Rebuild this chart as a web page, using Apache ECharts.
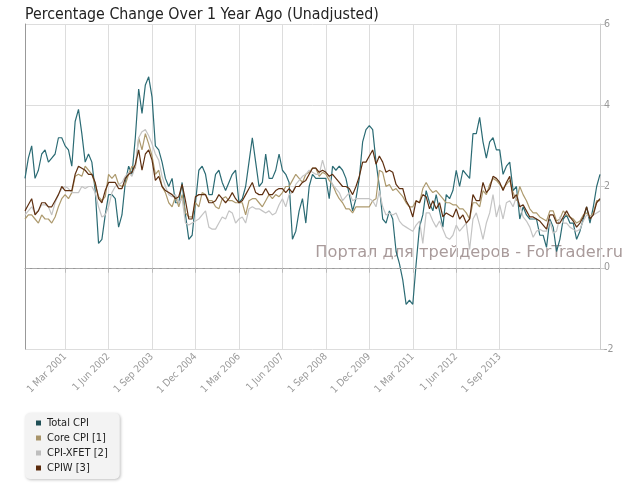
<!DOCTYPE html>
<html><head><meta charset="utf-8">
<script src="https://cdn.jsdelivr.net/npm/echarts@6/dist/echarts.min.js"></script>
<style>html,body{margin:0;padding:0;background:#fff}#c{width:630px;height:485px}</style>
</head><body><div id="c"></div>
<script>
// Monthly categories Jan 2000 .. May 2014
const startYear = 2000, monthCount = 173;
const categories = [];
for (let i = 0; i < monthCount; i++) {
  const y = startYear + Math.floor(i / 12), m = i % 12 + 1;
  categories.push(y + '-' + (m < 10 ? '0' + m : m));
}
const xTickLabels = ['1 Mar 2001','1 Jun 2002','1 Sep 2003','1 Dec 2004','1 Mar 2006','1 Jun 2007','1 Sep 2008','1 Dec 2009','1 Mar 2011','1 Jun 2012','1 Sep 2013'];
const firstTick = 12, tickStep = 13;

const totalCPI = [
2.2,2.7,3.0,2.2,2.4,2.8,2.9,2.6,2.7,2.8,3.2,3.2,
3.0,2.9,2.5,3.6,3.9,3.3,2.6,2.8,2.6,1.9,0.6,0.7,
1.3,1.8,1.8,1.7,1.0,1.3,2.1,2.5,2.3,3.2,4.4,3.8,
4.5,4.7,4.2,3.0,2.9,2.6,2.2,2.0,2.2,1.6,1.6,2.1,
1.3,0.7,0.8,1.6,2.4,2.5,2.3,1.8,1.8,2.3,2.4,2.1,
1.9,2.1,2.3,2.4,1.6,1.7,2.0,2.6,3.2,2.6,2.0,2.1,
2.8,2.2,2.2,2.4,2.8,2.4,2.3,2.1,0.7,0.9,1.4,1.7,
1.1,2.0,2.3,2.2,2.2,2.2,2.2,1.7,2.5,2.4,2.5,2.4,
2.2,1.8,1.4,1.7,2.2,3.1,3.4,3.5,3.4,2.6,2.0,1.2,
1.1,1.4,1.2,0.4,0.1,-0.3,-0.9,-0.8,-0.9,0.1,1.0,1.3,
1.9,1.6,1.4,1.8,1.4,1.0,1.8,1.7,1.9,2.4,2.0,2.4,
2.3,2.2,3.3,3.3,3.7,3.1,2.7,3.1,3.2,2.9,2.9,2.3,
2.5,2.6,1.9,2.0,1.2,1.5,1.3,1.2,1.2,1.2,0.8,0.8,
0.5,1.2,1.0,0.4,0.7,1.2,1.3,1.1,1.1,0.7,0.9,1.2,
1.5,1.1,1.5,2.0,2.3];

const coreCPI = [
1.2,1.3,1.3,1.2,1.1,1.3,1.2,1.2,1.1,1.25,1.5,1.7,
1.8,1.7,1.85,2.25,2.3,2.25,2.5,2.4,2.3,2.05,1.75,1.65,
1.75,2.3,2.2,2.3,2.05,2.0,2.05,2.3,2.5,2.45,3.2,2.9,
3.3,3.05,2.75,2.3,2.4,2.0,1.85,1.6,1.5,1.75,1.5,1.8,
1.35,1.25,1.25,1.6,1.5,1.85,1.8,1.65,1.65,1.5,1.45,1.7,
1.75,1.65,1.65,1.6,1.6,1.6,1.3,1.65,1.7,1.7,1.6,1.5,
1.65,1.8,1.7,1.8,1.75,1.85,2.0,2.0,2.15,2.3,2.2,2.1,
2.3,2.35,2.45,2.45,2.25,2.35,2.3,2.15,2.05,1.85,1.7,1.6,
1.45,1.45,1.35,1.5,1.5,1.5,1.5,1.5,1.65,1.7,2.4,2.35,
2.0,2.05,1.9,1.95,1.85,1.75,1.6,1.5,1.5,1.65,1.6,1.95,
2.1,1.95,1.85,1.9,1.8,1.7,1.6,1.6,1.55,1.55,1.45,1.45,
1.35,1.2,1.6,1.6,1.5,1.9,1.8,2.05,2.2,2.15,2.05,1.95,
2.05,2.15,1.85,1.65,2.0,1.8,1.65,1.45,1.35,1.35,1.25,1.2,
1.15,1.4,1.4,1.15,1.2,1.4,1.3,1.25,1.2,1.1,1.15,1.3,
1.35,1.25,1.35,1.65,1.65];

const cpiXFET = [
1.3,1.4,1.5,1.35,1.4,1.55,1.55,1.5,1.3,1.6,1.8,1.95,
2.0,1.95,1.85,1.85,1.85,2.0,1.95,2.0,2.0,1.85,1.5,1.25,
1.3,1.5,1.85,2.0,2.05,2.1,2.25,2.35,2.25,2.5,3.2,3.35,
3.4,3.25,3.05,2.8,2.65,2.25,2.0,1.8,1.75,1.8,1.6,1.7,
1.1,1.05,1.1,1.15,1.2,1.3,1.4,1.0,0.95,0.95,1.1,1.25,
1.2,1.4,1.35,1.1,1.2,1.25,1.1,1.45,1.5,1.45,1.45,1.4,
1.35,1.4,1.3,1.35,1.55,1.7,1.5,1.8,1.85,2.05,2.15,2.25,
2.3,2.4,2.35,2.3,2.3,2.65,2.35,2.25,2.05,1.95,1.85,1.65,
1.75,1.85,1.65,1.7,1.7,1.7,1.7,1.7,1.65,1.5,1.9,1.5,
1.3,1.35,1.3,1.35,1.15,1.05,1.0,0.95,0.9,1.05,1.15,0.6,
1.35,1.35,1.15,1.0,1.15,0.95,0.75,0.7,0.8,1.05,0.9,1.0,
1.1,0.45,1.2,1.35,1.05,0.7,1.1,1.35,1.8,1.25,1.55,1.2,
1.6,1.65,1.5,1.75,1.55,1.25,1.15,1.0,0.75,0.9,0.95,0.9,
0.9,1.15,0.85,0.9,1.25,1.1,1.1,1.0,0.95,0.9,0.95,1.15,
1.3,1.25,1.3,1.35,1.4];

const cpiW = [
1.4,1.55,1.7,1.3,1.4,1.6,1.6,1.5,1.5,1.65,1.8,2.0,
1.9,1.9,1.9,2.3,2.5,2.45,2.4,2.3,2.3,2.1,1.7,1.6,
1.9,2.1,2.1,2.1,1.95,1.95,2.2,2.3,2.35,2.55,2.9,2.4,
2.8,2.9,2.65,2.15,2.25,2.0,1.9,1.85,1.8,1.7,1.75,2.05,
1.65,1.2,1.2,1.75,1.8,1.8,1.8,1.6,1.6,1.65,1.8,1.7,
1.6,1.7,1.85,1.7,1.6,1.65,1.8,1.95,2.1,1.85,1.8,1.8,
1.95,1.8,1.8,1.9,1.95,1.95,1.85,1.95,1.85,2.0,2.0,2.1,
2.15,2.3,2.45,2.45,2.35,2.4,2.35,2.25,2.3,2.2,2.1,2.0,
2.0,1.95,1.8,2.0,2.25,2.6,2.6,2.75,2.9,2.55,2.75,2.6,
2.35,2.4,2.35,2.05,1.95,1.95,1.65,1.5,1.25,1.65,1.6,1.8,
1.75,1.45,1.65,1.45,1.6,1.25,1.35,1.3,1.25,1.45,1.2,1.3,
1.1,1.2,1.8,1.65,1.65,2.1,1.85,1.95,2.25,2.2,2.1,1.9,
2.1,2.25,1.7,1.8,1.5,1.55,1.4,1.25,1.25,1.2,1.15,1.05,
0.95,1.3,1.3,1.1,1.1,1.25,1.4,1.25,1.15,1.0,1.1,1.25,
1.5,1.2,1.3,1.6,1.7];

const seriesNames = ['Total CPI','Core CPI [1]','CPI-XFET [2]','CPIW [3]'];
const seriesColors = ['#2b6b74','#ad9a6e','#c4c4c4','#5e2f10'];
const legendColors = ['#1f4f56','#a8946a','#bdbdbd','#5a2a0c'];
const seriesData = [totalCPI, coreCPI, cpiXFET, cpiW];

const FONT = '"DejaVu Sans Condensed","Liberation Sans Narrow","Open Sans",sans-serif';
const WFONT = '"DejaVu Sans","Open Sans",sans-serif';
const lastTick = firstTick + tickStep * (xTickLabels.length - 1);
const isTick = (i) => i >= firstTick && i <= lastTick && (i - firstTick) % tickStep === 0;

const chart = echarts.init(document.getElementById('c'), null, {renderer: 'canvas'});
chart.setOption({
  animation: false,
  backgroundColor: '#fff',
  textStyle: {fontFamily: FONT},
  title: {
    text: 'Percentage Change Over 1 Year Ago (Unadjusted)',
    left: 20, top: 2,
    textStyle: {fontSize: 15.8, fontWeight: 'normal', color: '#222', fontFamily: FONT}
  },
  legend: {
    orient: 'vertical', left: 25, top: 413,
    padding: [4, 12, 5, 11], itemGap: 3,
    itemWidth: 5, itemHeight: 5,
    backgroundColor: '#f3f3f3', borderRadius: 5,
    shadowBlur: 3, shadowColor: 'rgba(0,0,0,0.25)', shadowOffsetX: 1, shadowOffsetY: 1,
    textStyle: {fontSize: 11, lineHeight: 12, color: '#222', fontFamily: FONT, padding: [0, 0, 0, 1]},
    data: seriesNames.map((n, i) => ({name: n, icon: 'rect', itemStyle: {color: legendColors[i]}}))
  },
  grid: {left: 25, right: 30, top: 24, bottom: 136, containLabel: false},
  xAxis: {
    type: 'category', data: categories, boundaryGap: false,
    axisLine: {lineStyle: {color: '#999'}},
    axisTick: {show: true, interval: (i) => isTick(i), length: 5, lineStyle: {color: '#bbb'}},
    axisLabel: {
      interval: (i) => isTick(i), rotate: 45, color: '#999', fontSize: 10, margin: 6,
      fontFamily: FONT,
      formatter: (v, i) => xTickLabels[(i - firstTick) / tickStep]
    },
    splitLine: {show: true, interval: (i) => isTick(i), lineStyle: {color: '#ddd'}}
  },
  yAxis: [{
    type: 'value', position: 'right', min: -2, max: 6, interval: 2,
    axisLine: {show: true, lineStyle: {color: '#ccc'}},
    axisTick: {show: true, length: 5, lineStyle: {color: '#ccc'}},
    axisLabel: {color: '#999', fontSize: 10.5, margin: 4, fontFamily: FONT},
    splitLine: {show: true, lineStyle: {color: ['#ddd', 'rgba(0,0,0,0)', '#ddd', '#ddd', '#ddd']}}
  }, {
    type: 'value', position: 'left', min: -2, max: 6, interval: 2,
    axisLine: {show: true, lineStyle: {color: '#999'}},
    axisTick: {show: false}, axisLabel: {show: false}, splitLine: {show: false}
  }],
  graphic: [{
    type: 'text', right: 7, top: 245, z: 0,
    style: {text: 'Портал для трейдеров - ForTrader.ru', fill: '#a99b9b', font: '16.2px ' + WFONT}
  }],
  series: seriesData.map((d, i) => ({
    name: seriesNames[i], type: 'line', data: d, showSymbol: false,
    lineStyle: {width: 1.2, color: seriesColors[i]}, itemStyle: {color: legendColors[i]},
    z: 2 + i,
    markLine: i === 0 ? {
      silent: true, symbol: 'none', label: {show: false},
      lineStyle: {type: 'dashed', color: '#aaa', width: 1.2},
      data: [{yAxis: 0}]
    } : undefined
  }))
});
</script></body></html>
